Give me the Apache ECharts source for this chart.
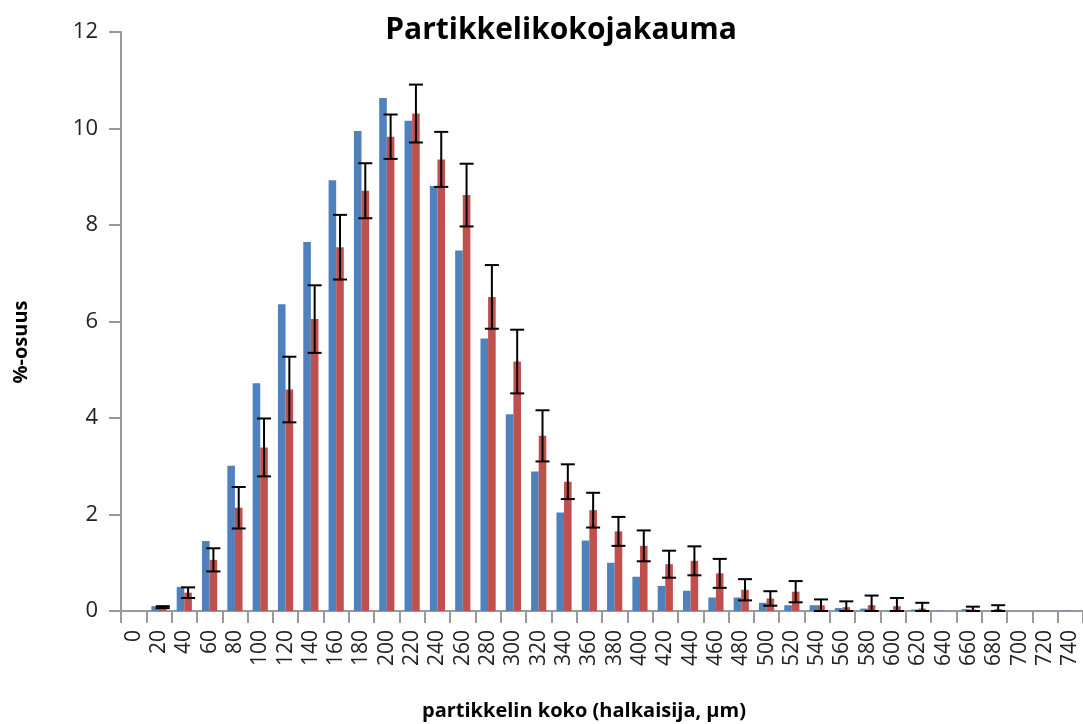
<!DOCTYPE html>
<html>
<head>
<meta charset="utf-8">
<script src="https://cdn.jsdelivr.net/npm/echarts@6/dist/echarts.min.js"></script>
<style>html,body{margin:0;padding:0;background:#fff}#c{width:1083px;height:724px}</style>
</head>
<body>
<div id="c"></div>
<script>
const categories = ['0','20','40','60','80','100','120','140','160','180','200','220','240','260','280','300','320','340','360','380','400','420','440','460','480','500','520','540','560','580','600','620','640','660','680','700','720','740'];
const blueValues = [0,0.1,0.5,1.45,3.01,4.72,6.36,7.65,8.93,9.95,10.63,10.16,8.81,7.47,5.65,4.08,2.89,2.04,1.46,1.0,0.71,0.52,0.42,0.28,0.28,0.17,0.12,0.12,0.06,0.05,0.01,0.03,0.01,0.04,0,0,0,0.01];
const redValues = [0,0.08,0.38,1.06,2.14,3.39,4.59,6.05,7.54,8.71,9.83,10.31,9.36,8.62,6.51,5.17,3.63,2.68,2.09,1.65,1.35,0.97,1.04,0.78,0.44,0.26,0.40,0.12,0.08,0.12,0.10,0.05,0,0.03,0.04,0,0,0];
const redErrors = [null,0.02,0.11,0.24,0.43,0.6,0.68,0.7,0.67,0.57,0.46,0.6,0.57,0.65,0.66,0.66,0.53,0.36,0.36,0.3,0.32,0.28,0.3,0.3,0.22,0.15,0.22,0.12,0.12,0.2,0.17,0.12,null,0.06,0.08,null,null,null];
const yTicks = {min:0, max:12, interval:2};
const titleText = 'Partikkelikokojakauma';
const xName = 'partikkelin koko (halkaisija, µm)';
const yName = '%-osuus';

const errData = [];
redValues.forEach((v,i)=>{ if(redErrors[i]!=null) errData.push([i, v, redErrors[i]]); });

const chart = echarts.init(document.getElementById('c'), null, {renderer:'canvas'});
const font = '"Open Sans", "DejaVu Sans", sans-serif';
chart.setOption({
  animation:false,
  title:[
    {text:titleText, left:556, top:10, textAlign:'center',
     textStyle:{fontFamily:font, fontWeight:'bold', fontSize:30, color:'#000'}},
    {text:xName, left:579, top:696, textAlign:'center',
     textStyle:{fontFamily:font, fontWeight:'bold', fontSize:20, color:'#000'}}
  ],
  graphic:[
    {type:'text', x:21, y:342, rotation:Math.PI/2,
     style:{text:yName, fontFamily:font, fontWeight:'bold', fontSize:20, fill:'#000',
            textAlign:'center', textVerticalAlign:'middle'}}
  ],
  grid:{left:121, top:32, width:965, bottom:113},
  xAxis:{type:'category', data:categories, boundaryGap:true,
    axisLine:{lineStyle:{color:'#999', width:2}},
    axisTick:{show:true, length:12, interval:0, lineStyle:{color:'#999', width:2}},
    axisLabel:{interval:0, rotate:90, fontFamily:font, fontSize:21, color:'#222', margin:19}},
  yAxis:{type:'value', min:yTicks.min, max:yTicks.max, interval:yTicks.interval,
    axisLine:{show:true, lineStyle:{color:'#999', width:2}},
    axisTick:{show:true, length:12, lineStyle:{color:'#999', width:2}},
    splitLine:{show:false},
    axisLabel:{fontFamily:font, fontSize:22, color:'#222', margin:23}},
  series:[
    {type:'bar', name:'A', data:blueValues, barWidth:'30%', barGap:'0%', itemStyle:{color:'#4F81BD'}},
    {type:'bar', name:'B', data:redValues, barWidth:'30%', barGap:'0%', itemStyle:{color:'#C0504D'}},
    {type:'custom', name:'err', data:errData, z:10,
     renderItem:function(params, api){
       const i = api.value(0), v = api.value(1), e = api.value(2);
       const bw = api.size([1,0])[0];
       const off = bw*0.15;
       const top = api.coord([i, v+e]);
       const bot = api.coord([i, Math.max(0, v-e)]);
       const x = top[0] + off;
       const cap = 7;
       const st = {stroke:'#000', lineWidth:2};
       return {type:'group', children:[
         {type:'line', shape:{x1:x, y1:top[1], x2:x, y2:bot[1]}, style:st},
         {type:'line', shape:{x1:x-cap, y1:top[1], x2:x+cap, y2:top[1]}, style:st},
         {type:'line', shape:{x1:x-cap, y1:bot[1], x2:x+cap, y2:bot[1]}, style:st}
       ]};
     }}
  ]
});
</script>
</body>
</html>
